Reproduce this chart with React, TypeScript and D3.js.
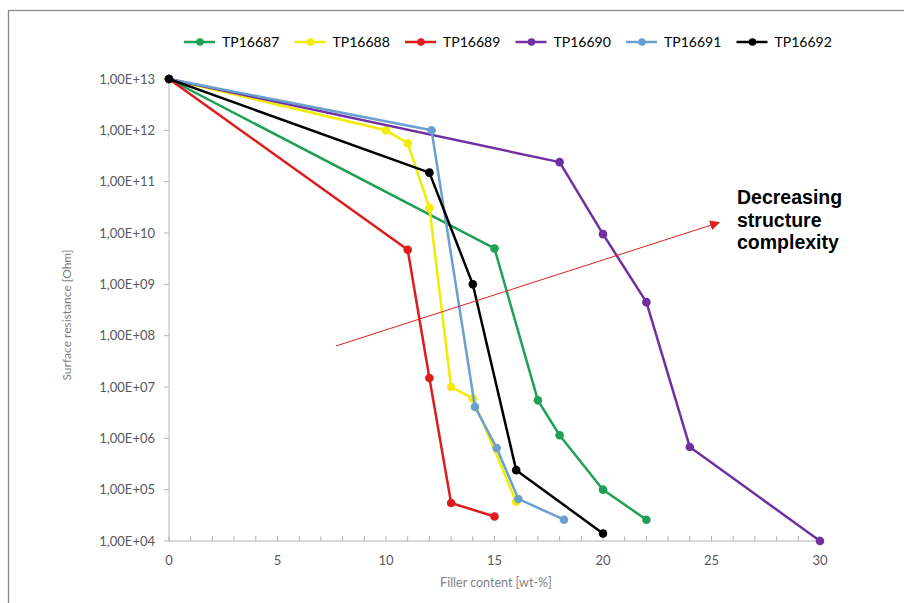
import React from "react";
import * as d3 from "d3";

// series data
const seriesNames = ["TP16687", "TP16688", "TP16689", "TP16690", "TP16691", "TP16692"];
const seriesColors = ["#1fa055", "#f2ec00", "#dd1c1c", "#7030a0", "#6a9fd0", "#000000"];

const fillerTP16687 = [0, 15, 17, 18, 20, 22];
const resTP16687 = [1e13, 5e9, 5.5e6, 1.15e6, 1e5, 2.6e4];

const fillerTP16688 = [0, 10, 11, 12, 13, 14, 16];
const resTP16688 = [1e13, 1e12, 5.6e11, 3.1e10, 1e7, 6e6, 5.8e4];

const fillerTP16689 = [0, 11, 12, 13, 15];
const resTP16689 = [1e13, 4.7e9, 1.5e7, 5.5e4, 3e4];

const fillerTP16690 = [0, 18, 20, 22, 24, 30];
const resTP16690 = [1e13, 2.4e11, 9.5e9, 4.5e8, 6.8e5, 1e4];

const fillerTP16691 = [0, 12.1, 14.1, 15.1, 16.1, 18.2];
const resTP16691 = [1e13, 1e12, 4.1e6, 6.5e5, 6.6e4, 2.6e4];

const fillerTP16692 = [0, 12, 14, 16, 20];
const resTP16692 = [1e13, 1.5e11, 1e9, 2.4e5, 1.4e4];

const xTickLabels = [0, 5, 10, 15, 20, 25, 30];
const yTickValues = [1e4, 1e5, 1e6, 1e7, 1e8, 1e9, 1e10, 1e11, 1e12, 1e13];

const annotationLines = ["Decreasing", "structure", "complexity"];

const fillers = [fillerTP16687, fillerTP16688, fillerTP16689, fillerTP16690, fillerTP16691, fillerTP16692];
const resistances = [resTP16687, resTP16688, resTP16689, resTP16690, resTP16691, resTP16692];

const W = 904;
const H = 603;
const font = "Lato, 'Open Sans', sans-serif";

const App = () => {
  const x = d3.scaleLinear().domain([0, 30]).range([169, 820]);
  const y = d3.scaleLog().domain([1e4, 1e13]).range([541, 79]);

  const line = d3
    .line<[number, number]>()
    .x((d) => x(d[0]))
    .y((d) => y(d[1]));

  const series = seriesNames.map((name, i) => ({
    name,
    color: seriesColors[i],
    points: fillers[i].map((f, j) => [f, resistances[i][j]] as [number, number]),
  }));

  const fmt = (v: number) => {
    const e = Math.round(Math.log10(v));
    return `1,00E+${String(e).padStart(2, "0")}`;
  };

  const minorTicks = d3.range(0, 31, 1);

  // arrow annotation in data space
  const arrowFrom: [number, number] = [7.7, 6.3e7];
  const arrowTo: [number, number] = [25.35, 1.6e10];

  const legendX = (i: number) => 184 + i * 110.5;

  return (
    <svg
      width={W}
      height={H}
      style={{ position: "absolute", left: 0, top: 0, background: "#fff" }}
      fontFamily={font}
    >
      <rect x={0} y={0} width={W} height={H} fill="#fff" />
      <rect x={8.5} y={10.5} width={1200} height={1200} fill="none" stroke="#8a8a8a" strokeWidth={1.3} />

      {/* axes */}
      <line x1={x(0)} x2={x(0)} y1={y(1e13)} y2={y(1e4)} stroke="#b3b3b3" />
      <line x1={x(0)} x2={x(30)} y1={y(1e4)} y2={y(1e4)} stroke="#b3b3b3" />
      {yTickValues.map((v) => (
        <g key={v}>
          <line x1={x(0) - 5} x2={x(0)} y1={y(v)} y2={y(v)} stroke="#b3b3b3" />
          <text x={155} y={y(v)} dy="0.35em" textAnchor="end" fontSize={13} fill="#595959">
            {fmt(v)}
          </text>
        </g>
      ))}
      {minorTicks.map((t) => (
        <line key={t} x1={x(t)} x2={x(t)} y1={y(1e4)} y2={y(1e4) - 5} stroke="#b3b3b3" />
      ))}
      {xTickLabels.map((t) => (
        <text key={t} x={x(t)} y={565} textAnchor="middle" fontSize={13} fill="#595959">
          {t}
        </text>
      ))}

      <text x={496} y={587} textAnchor="middle" fontSize={12.5} fill="#7f7f7f">
        Filler content [wt-%]
      </text>
      <text
        transform={`translate(71, 315) rotate(-90)`}
        textAnchor="middle"
        fontSize={12}
        fill="#7f7f7f"
      >
        Surface resistance [Ohm]
      </text>

      {/* series */}
      {series.map((s) => (
        <g key={s.name}>
          <path d={line(s.points) || ""} fill="none" stroke={s.color} strokeWidth={2.5} strokeLinejoin="round" />
          {s.points.map((p, j) => (
            <circle key={j} cx={x(p[0])} cy={y(p[1])} r={4.3} fill={s.color} />
          ))}
        </g>
      ))}

      {/* legend */}
      {series.map((s, i) => (
        <g key={s.name}>
          <line x1={legendX(i)} x2={legendX(i) + 31} y1={42} y2={42} stroke={s.color} strokeWidth={2.5} />
          <circle cx={legendX(i) + 16} cy={42} r={3.8} fill={s.color} />
          <text x={legendX(i) + 38} y={42} dy="0.36em" fontSize={14} fill="#000">
            {s.name}
          </text>
        </g>
      ))}

      {/* annotation */}
      <defs>
        <marker id="arrowHead" viewBox="0 0 10 10" refX={9} refY={5} markerWidth={10} markerHeight={10} markerUnits="userSpaceOnUse" orient="auto">
          <path d="M0,0 L10,5 L0,10 z" fill="#e0201b" />
        </marker>
      </defs>
      <line
        x1={x(arrowFrom[0])}
        y1={y(arrowFrom[1])}
        x2={x(arrowTo[0])}
        y2={y(arrowTo[1])}
        stroke="#e0201b"
        strokeWidth={1}
        markerEnd="url(#arrowHead)"
      />
      {annotationLines.map((t, i) => (
        <text
          key={t}
          x={737}
          y={204 + i * 22.5}
          fontSize={19.5}
          fontWeight="bold"
          fontFamily="'Liberation Sans', Arial, sans-serif"
          fill="#000"
        >
          {t}
        </text>
      ))}
    </svg>
  );
};

export default App;
